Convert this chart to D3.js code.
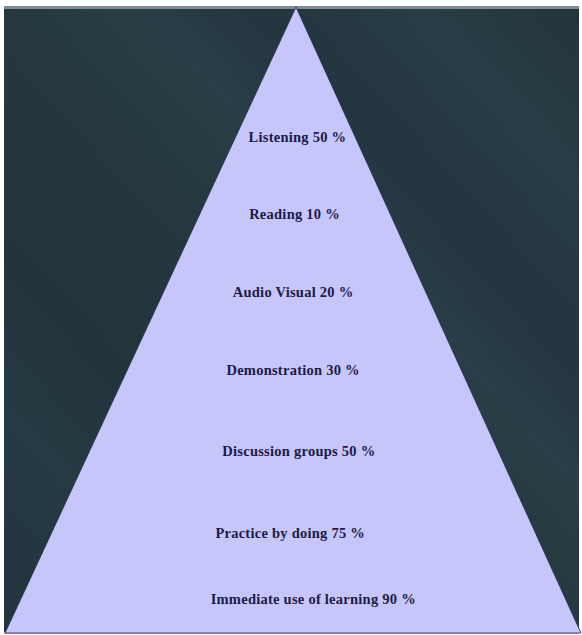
<!DOCTYPE html>
<html>
<head>
<meta charset="utf-8">
<script src="https://cdn.jsdelivr.net/npm/d3@7/dist/d3.min.js"></script>
<style>
html,body{margin:0;padding:0;background:#fff;}
svg{display:block;}
</style>
</head>
<body>
<svg id="chart" width="582" height="635"></svg>
<script>
// ---- data ----
const categories = ["Listening", "Reading", "Audio Visual", "Demonstration",
  "Discussion groups", "Practice by doing", "Immediate use of learning"];
const retention = [50, 10, 20, 30, 50, 75, 90];

// ---- layout (not data) ----
const labelLevels = [0.208, 0.331, 0.456, 0.580, 0.710, 0.841, 0.945]; // fraction of height from apex
const labelShift  = [0.005, -0.005, -0.01, -0.01, 0.01, -0.02, 0.06];   // horizontal nudge, fraction of half-width

const W = 582, H = 635;
const svg = d3.select("#chart");

const frame = {x0: 4, x1: 579, y0: 6, y1: 634};

// background
const defs = svg.append("defs");
const grad = defs.append("linearGradient").attr("id", "bg")
  .attr("x1", "0").attr("y1", "1").attr("x2", "1").attr("y2", "0");
const stops = [[0, "#22343d"], [0.18, "#263a43"], [0.3, "#22343c"], [0.5, "#25383f"],
  [0.62, "#2a3e47"], [0.72, "#23353e"], [0.86, "#293d46"], [1, "#22343c"]];
stops.forEach(s => grad.append("stop").attr("offset", s[0]).attr("stop-color", s[1]));

svg.append("rect").attr("x", frame.x0).attr("y", frame.y0)
  .attr("width", frame.x1 - frame.x0).attr("height", frame.y1 - frame.y0)
  .attr("fill", "url(#bg)");
svg.append("rect").attr("x", frame.x0).attr("y", frame.y0)
  .attr("width", frame.x1 - frame.x0).attr("height", 3).attr("fill", "#7d8d93");
svg.append("rect").attr("x", frame.x0).attr("y", frame.y1 - 2)
  .attr("width", frame.x1 - frame.x0).attr("height", 2).attr("fill", "#b8b4d8");

// scales for pyramid geometry
const x = d3.scaleLinear().domain([-1, 1]).range([5, 581]);
const y = d3.scaleLinear().domain([0, 1]).range([7, 633]);
const apexX = 296;

const tri = [[apexX, y(0)], [x(-1), y(1)], [x(1), y(1)]];
svg.append("path")
  .attr("d", d3.line()(tri) + "Z")
  .attr("fill", "#c6c6fb")
  .attr("stroke", "#1f2b4d").attr("stroke-width", 0.8);

// labels
svg.append("g").selectAll("text")
  .data(categories)
  .join("text")
  .attr("x", (d, i) => apexX + labelShift[i] * (x(1) - x(0)))
  .attr("y", (d, i) => y(labelLevels[i]))
  .attr("text-anchor", "middle")
  .attr("dominant-baseline", "central")
  .attr("font-family", "'Liberation Serif', 'Times New Roman', serif")
  .attr("font-weight", "bold")
  .attr("font-size", 14.5)
  .attr("letter-spacing", 0.25)
  .attr("fill", "#1b1b45")
  .text((d, i) => `${d} ${retention[i]} %`);
</script>
</body>
</html>
